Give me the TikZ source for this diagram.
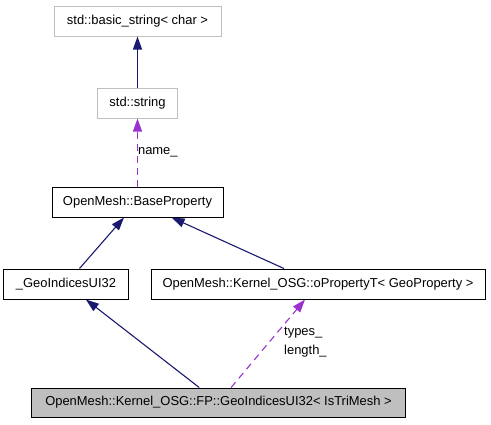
\documentclass[tikz,border=0pt]{standalone}
\usepackage{fontspec}
\setmainfont{Liberation Sans}
\usepackage{tikz}
\usetikzlibrary{arrows.meta}
\definecolor{edgeblue}{HTML}{191970}
\definecolor{edgepurple}{HTML}{9A32CD}
\definecolor{boxgray}{HTML}{BFBFBF}

\begin{document}
\begin{tikzpicture}[
    x=1bp, y=-1bp,
    every node/.style={font=\fontsize{13}{19}\selectfont, inner sep=0pt, text=black},
    cls/.style={draw=black, line width=1bp, minimum height=30bp},
    extcls/.style={cls, draw=boxgray},
    inherit/.style={edgeblue, line width=1.1bp, -{Triangle[length=13bp,width=9bp]}},
    member/.style={edgepurple, line width=1.1bp, dash pattern=on 7bp off 5bp,
        -{Triangle[length=13bp,width=9bp]}}
]
\useasboundingbox (0,0) rectangle (491,424);

\node[extcls, minimum width=167bp] (bstr) at (137.5,21) {std::basic\_string< char >};
\node[extcls, minimum width=80bp] (str) at (137.5,103) {std::string};
\node[cls, minimum width=171bp] (base) at (137.5,202) {OpenMesh::BaseProperty};
\node[cls, minimum width=124bp] (geo) at (66,284) {\_GeoIndicesUI32};
\node[cls, minimum width=334bp] (oprop) at (318,284) {OpenMesh::Kernel\_OSG::oPropertyT< GeoProperty >};
\node[cls, fill=boxgray, minimum width=373bp, minimum height=29bp] (fp) at (218.5,402.5)
    {OpenMesh::Kernel\_OSG::FP::GeoIndicesUI32< IsTriMesh >};

\draw[inherit] (str) -- (bstr);
\draw[member] (base) -- (str) node[pos=0.5, right] (lname) {name\_};
\draw[inherit] (geo) -- (base);
\draw[inherit] (oprop) -- (base);
\draw[inherit] (fp) -- (geo);
\draw[member] (fp) -- (oprop);
\node[anchor=west, align=left] (lmembers) at (284,342.5) {types\_\\length\_};
\end{tikzpicture}
\end{document}
